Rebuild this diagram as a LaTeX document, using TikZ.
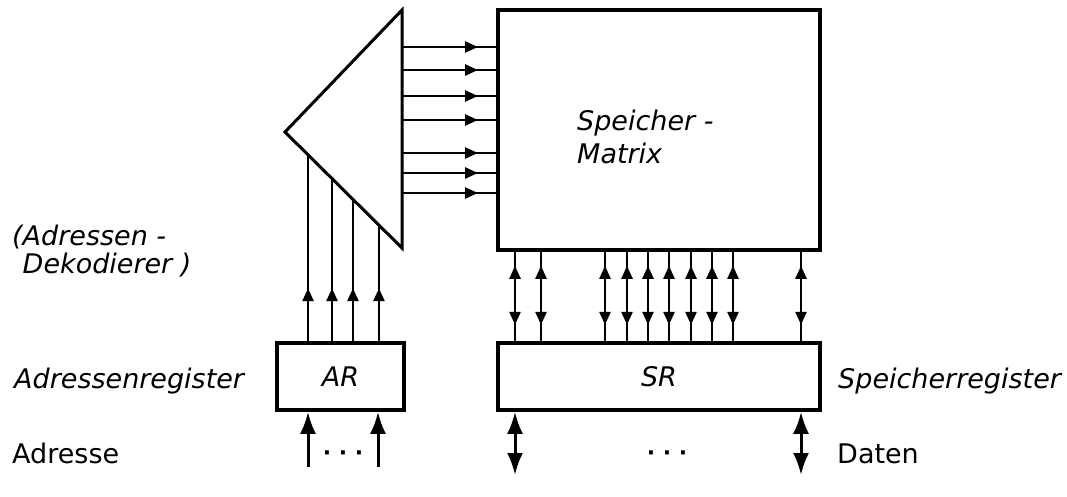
\documentclass[tikz,border=0pt]{standalone}
\usepackage{fontspec}
\setmainfont{DejaVu Sans}
\usetikzlibrary{positioning, arrows.meta, calc}

\begin{document}
\begin{tikzpicture}[
            x=1pt, y=-1pt,
            tipS/.tip={Triangle[length=13pt,width=11pt]},
            tipB/.tip={Latex[length=22pt,width=16pt]},
            box/.style={
                rectangle,
                draw,
                line width=3.6pt,
                inner sep=0pt,
                font=\fontsize{27}{27}\selectfont\itshape
            },
            sig/.style={
                line width=2.6pt
            },
            bus/.style={
                line width=3pt
            },
            lbl/.style={
                inner sep=0pt,
                anchor=base west,
                font=\fontsize{27}{27}\selectfont\itshape
            },
            lblup/.style={
                inner sep=0pt,
                anchor=base west,
                font=\fontsize{27}{27}\selectfont
            },
            dots/.style={
                inner sep=0pt,
                anchor=base,
                font=\fontsize{22}{22}\selectfont\bfseries
            }
        ]
            \useasboundingbox (0,0) rectangle (1067,497);

            % boxes
            \node [box, minimum width=322pt, minimum height=240pt] (mat) at (659,130) {};
            \node [box, minimum width=127pt, minimum height=67pt] (ar) at (340.5,376.5) {AR};
            \node [box, minimum width=322pt, minimum height=67pt] (sr) at (659,376.5) {SR};

            % decoder
            \coordinate (dtop) at (402,10);
            \coordinate (dtip) at (285,132);
            \coordinate (dbot) at (402,248);
            \draw [line width=3pt, line join=miter] (dtop) -- (dtip) -- (dbot) -- cycle;

            % address lines
            \foreach \t [count=\i] in {0.197,0.402,0.581,0.803}
                \coordinate (s\i) at ($(dtip)!\t!(dbot)$);
            \foreach \i in {1,...,4} {
                \draw [sig] (ar.north -| s\i) -- (s\i);
                \draw [sig, -{tipS}] (ar.north -| s\i) -- ($(ar.north -| s\i)!53pt!(s\i)$);
            }

            % word lines
            \foreach \y [count=\i] in {47,70,96,120,153,173,193} {
                \coordinate (h\i) at (402,\y);
                \draw [sig] (h\i) -- (mat.west |- h\i);
                \draw [sig, -{tipS}] (h\i) -- ($(h\i)!76pt!(mat.west |- h\i)$);
            }

            % bit lines
            \foreach \x [count=\i] in {515,541,605,627,648,669,691,712,733,801} {
                \coordinate (v\i) at (\x,0);
                \draw [sig] (mat.south -| v\i) -- (sr.north -| v\i);
                \draw [sig, -{tipS}] ($(mat.south -| v\i)!38pt!(sr.north -| v\i)$)
                                  -- ($(mat.south -| v\i)!14pt!(sr.north -| v\i)$);
                \draw [sig, -{tipS}] ($(mat.south -| v\i)!49pt!(sr.north -| v\i)$)
                                  -- ($(mat.south -| v\i)!73pt!(sr.north -| v\i)$);
            }

            % inputs / data
            \coordinate (ain1) at (308,467);
            \coordinate (ain2) at (378,467);
            \coordinate (dat1) at (515,475);
            \coordinate (dat2) at (801,475);
            \draw [bus, -{tipB}] (ain1) -- (ar.south -| ain1);
            \draw [bus, -{tipB}] (ain2) -- (ar.south -| ain2);
            \draw [bus, {tipB}-{tipB}] (sr.south -| dat1) -- (dat1);
            \draw [bus, {tipB}-{tipB}] (sr.south -| dat2) -- (dat2);
            \node [dots] (ardots) at (343,460) {· · ·};
            \node [dots] (srdots) at (667,460) {· · ·};

            % labels
            \node [lbl, align=left, anchor=north west,
                   font=\fontsize{27}{33}\selectfont\itshape] (mattext) at (577,110) {Speicher -\\Matrix};
            \node [lbl, align=left, anchor=north west,
                   font=\fontsize{27}{28}\selectfont\itshape] (declabel) at (12,225) {(Adressen -\\\hphantom{(}Dekodierer )};
            \node [lbl] (arlabel) at (14,388) {Adressenregister};
            \node [lbl] (srlabel) at (838,388) {Speicherregister};
            \node [lblup] (adrlabel) at (12,463) {Adresse};
            \node [lblup] (datlabel) at (837,463) {Daten};
        \end{tikzpicture}
\end{document}
